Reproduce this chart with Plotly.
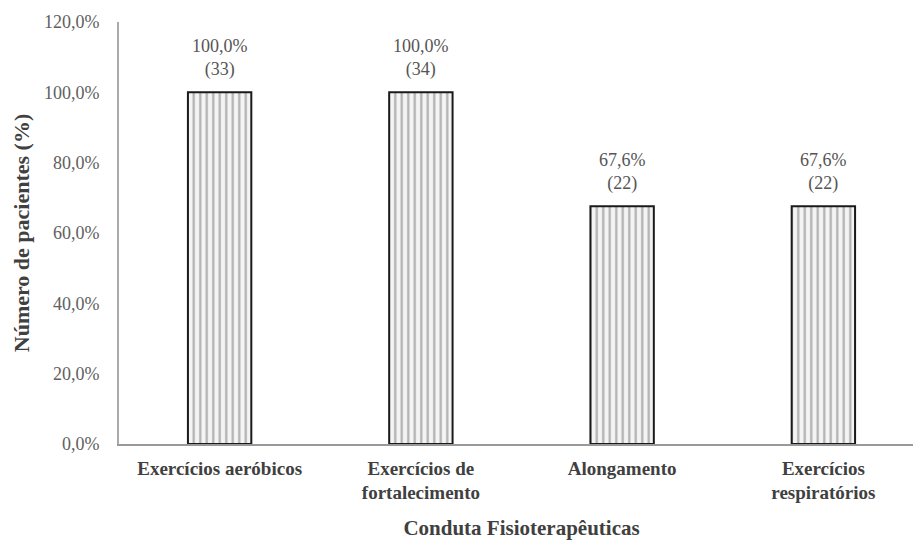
import plotly.graph_objects as go

categories = ["Exercícios aeróbicos", "Exercícios de<br>fortalecimento", "Alongamento", "Exercícios<br>respiratórios"]
percent = [100.0, 100.0, 67.6, 67.6]
counts = [33, 34, 22, 22]
y_ticks = [0, 20, 40, 60, 80, 100, 120]
y_tick_labels = ["0,0%", "20,0%", "40,0%", "60,0%", "80,0%", "100,0%", "120,0%"]

labels = [f"{p:.1f}%".replace(".", ",") + f"<br>({c})" for p, c in zip(percent, counts)]
FONT = "Liberation Serif"

fig = go.Figure()
fig.add_trace(go.Bar(
    x=categories, y=percent, width=0.315,
    marker=dict(color="white", line=dict(color="#1a1a1a", width=2),
                pattern=dict(shape="|", fgcolor="#6e6e6e", bgcolor="#f4f4f4", size=6.5, solidity=0.35)),
))
for c, p, t in zip(categories, percent, labels):
    fig.add_annotation(x=c, y=p, text=t, showarrow=False, yanchor="bottom", yshift=10,
                       font=dict(family=FONT, size=18, color="#555555"))
fig.update_layout(
    width=921, height=542,
    margin=dict(l=111, r=5, t=14, b=106),
    paper_bgcolor="white", plot_bgcolor="white",
    showlegend=False,
    font=dict(family=FONT, color="#555555"),
    xaxis=dict(showline=True, linecolor="#999999", linewidth=1.5, ticks="",
               tickvals=categories, ticktext=[f"<b>{c}</b>" for c in categories],
               ticklabelstandoff=6,
               tickfont=dict(family=FONT, size=19, color="#404040"),
               title=dict(text="<b>Conduta Fisioterapêuticas</b>", font=dict(family=FONT, size=21, color="#404040"), standoff=18)),
    yaxis=dict(range=[0, 120], tickvals=y_ticks, ticktext=y_tick_labels, showgrid=False,
               showline=True, linecolor="#aaaaaa", linewidth=2, ticks="", zeroline=False,
               ticklabelstandoff=14,
               tickfont=dict(family=FONT, size=18, color="#606060"),
               title=dict(text="<b>Número de pacientes (%)</b>", font=dict(family=FONT, size=22, color="#404040"), standoff=8)),
)
fig.write_html("out.html")
